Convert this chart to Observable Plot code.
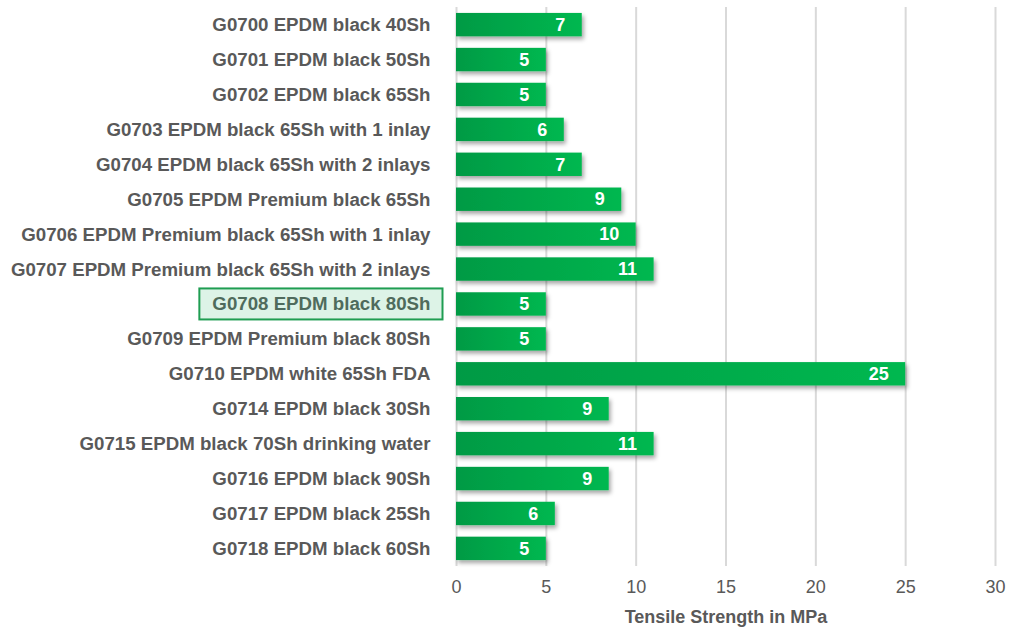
<!DOCTYPE html>
<html>
<head>
<meta charset="utf-8">
<script src="https://cdn.jsdelivr.net/npm/d3@7"></script>
<script src="https://cdn.jsdelivr.net/npm/@observablehq/plot@0.6"></script>
<style>
  html, body { margin: 0; padding: 0; background: #fff; }
  #chart { width: 1009px; height: 627px; }
</style>
</head>
<body>
<div id="chart"></div>
<script>
const products = [
  "G0700 EPDM black 40Sh",
  "G0701 EPDM black 50Sh",
  "G0702 EPDM black 65Sh",
  "G0703 EPDM black 65Sh with 1 inlay",
  "G0704 EPDM black 65Sh with 2 inlays",
  "G0705 EPDM Premium black 65Sh",
  "G0706 EPDM Premium black 65Sh with 1 inlay",
  "G0707 EPDM Premium black 65Sh with 2 inlays",
  "G0708 EPDM black 80Sh",
  "G0709 EPDM Premium black 80Sh",
  "G0710 EPDM white 65Sh FDA",
  "G0714 EPDM black 30Sh",
  "G0715 EPDM black 70Sh drinking water",
  "G0716 EPDM black 90Sh",
  "G0717 EPDM black 25Sh",
  "G0718 EPDM black 60Sh"
];
const tensile = [7, 5, 5, 6, 7, 9.2, 10, 11, 5, 5, 25, 8.5, 11, 8.5, 5.5, 5];
const xTicks = [0, 5, 10, 15, 20, 25, 30];
const highlighted = "G0708 EPDM black 80Sh";

const data = products.map((p, i) => ({product: p, value: tensile[i]}));

const plot = Plot.plot({
  width: 1009,
  height: 627,
  marginLeft: 456,
  marginRight: 14,
  marginTop: 7,
  marginBottom: 61,
  style: {fontFamily: "Liberation Sans, Arial, sans-serif", fontSize: "18px", color: "#595959", background: "#fff"},
  x: {domain: [0, 30]},
  y: {domain: products, paddingInner: 0.33, paddingOuter: 0.17, round: false},
  marks: [
    Plot.gridX(xTicks, {stroke: "#d9d9d9", strokeOpacity: 1, strokeWidth: 2}),
    Plot.barX(data, {x: "value", y: "product", fill: "url(#barGrad)", className: "bars"}),
    Plot.text(data, {x: "value", y: "product", text: d => String(Math.round(d.value)), textAnchor: "end", dx: -17, fill: "white", fontWeight: "bold", fontSize: 18}),
    Plot.axisY({tickSize: 0, tickPadding: 26, fontWeight: "bold", fontSize: 18.7, label: null, fill: "#595959"}),
    Plot.axisX(xTicks, {tickSize: 0, tickPadding: 14, fontSize: 18, fill: "#595959", label: "Tensile Strength in MPa", labelAnchor: "center", labelOffset: 56, labelArrow: "none"})
  ]
});

document.getElementById("chart").appendChild(plot);

const svgNS = "http://www.w3.org/2000/svg";
const svg = plot.tagName.toLowerCase() === "svg" ? plot : plot.querySelector("svg");
const defs = document.createElementNS(svgNS, "defs");
defs.innerHTML = `
  <linearGradient id="barGrad" x1="0" y1="0" x2="1" y2="0">
    <stop offset="0" stop-color="#009a44"/>
    <stop offset="1" stop-color="#00b850"/>
  </linearGradient>
  <filter id="barShadow" x="-5%" y="-20%" width="115%" height="160%">
    <feDropShadow dx="2" dy="3" stdDeviation="2.2" flood-color="#000" flood-opacity="0.35"/>
  </filter>`;
svg.insertBefore(defs, svg.firstChild);
svg.querySelectorAll("g.bars, g[aria-label='bar']").forEach(g => g.setAttribute("filter", "url(#barShadow)"));

svg.querySelectorAll("g[aria-label='x-axis label'] text").forEach(t => {
  t.setAttribute("font-weight", "bold");
  t.setAttribute("font-size", "18");
});

svg.querySelectorAll("g[aria-label='y-axis tick label'] text").forEach(t => {
  if (t.textContent === highlighted) {
    const bb = t.getBBox();
    const ctm = t.getCTM();
    const ox = ctm ? ctm.e : 0, oy = ctm ? ctm.f : 0;
    const cy = bb.y + oy + bb.height / 2;
    const r = document.createElementNS(svgNS, "rect");
    r.setAttribute("x", bb.x + ox - 13);
    r.setAttribute("y", cy - 15.5);
    r.setAttribute("width", bb.width + 25);
    r.setAttribute("height", 31);
    r.setAttribute("fill", "#ddf3e7");
    r.setAttribute("stroke", "#1f9d52");
    r.setAttribute("stroke-width", "2");
    const g = t.closest("g[aria-label='y-axis tick label']");
    svg.insertBefore(r, g);
    t.setAttribute("fill", "#4f6b5c");
  }
});
</script>
</body>
</html>
